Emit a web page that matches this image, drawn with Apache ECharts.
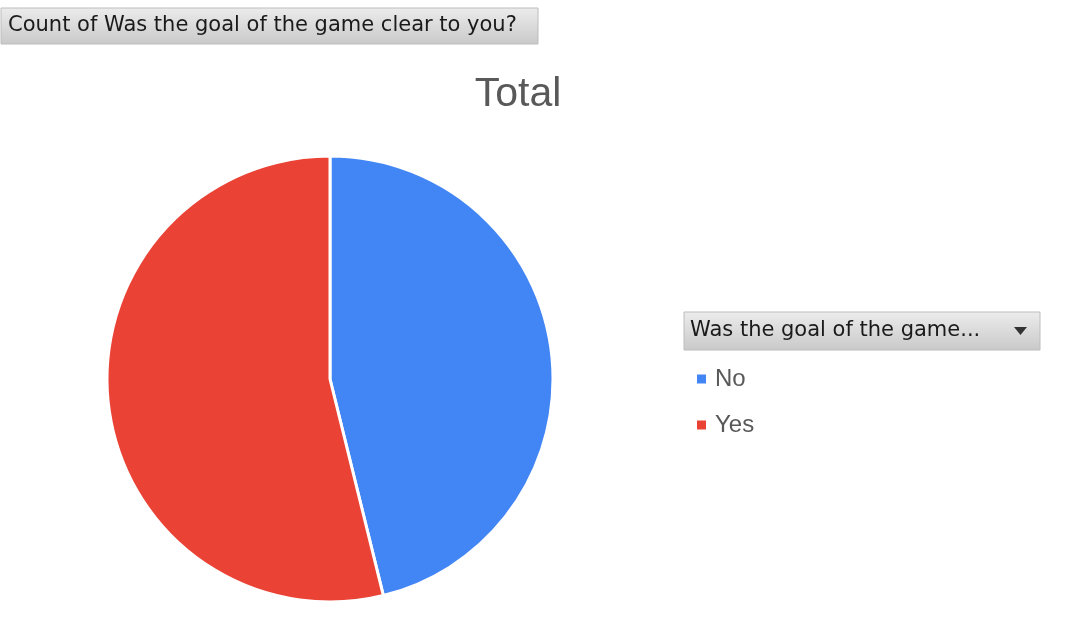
<!DOCTYPE html>
<html>
<head>
<meta charset="utf-8">
<script src="https://cdn.jsdelivr.net/npm/echarts@6/dist/echarts.min.js"></script>
<style>
html,body{margin:0;padding:0;background:#fff;}
#chart{width:1074px;height:631px;}
</style>
</head>
<body>
<div id="chart"></div>
<script>
const categories = ["No", "Yes"];
const counts = [6, 7];
const colors = ["#4285F4", "#EA4335"];
const fieldTitle = "Count of Was the goal of the game clear to you?";
const legendTitle = "Was the goal of the game...";
const chartTitle = "Total";

const chart = echarts.init(document.getElementById('chart'));
const mkGrad = () => new echarts.graphic.LinearGradient(0, 0, 0, 1, [
  {offset: 0, color: '#ececec'},
  {offset: 1, color: '#c9c9c9'}
]);
chart.setOption({
  animation: false,
  backgroundColor: '#ffffff',
  title: {
    text: chartTitle,
    left: 513,
    top: 69,
    textAlign: 'center',
    textStyle: {fontFamily: 'Liberation Sans, Arial', fontSize: 41, fontWeight: 'normal', color: '#595959'}
  },
  legend: {
    orient: 'vertical',
    left: 697,
    top: 367,
    padding: 0,
    icon: 'rect',
    itemWidth: 9,
    itemHeight: 9,
    itemGap: 22,
    itemStyle: {borderWidth: 0},
    data: categories,
    textStyle: {fontFamily: 'Liberation Sans, Arial', fontSize: 24, color: '#595959', padding: [0,0,0,4]}
  },
  graphic: [
    {type: 'rect', shape: {x: 1, y: 8, width: 537, height: 36}, style: {fill: mkGrad(), stroke: '#bdbdbd', lineWidth: 1}},
    {type: 'text', style: {x: 8, y: 26, text: fieldTitle, fontFamily: 'DejaVu Sans', fontSize: 21, fill: '#1a1a1a', verticalAlign: 'middle'}},
    {type: 'rect', shape: {x: 684, y: 312, width: 356, height: 38}, style: {fill: mkGrad(), stroke: '#bdbdbd', lineWidth: 1}},
    {type: 'text', style: {x: 690, y: 331, text: legendTitle, fontFamily: 'DejaVu Sans', fontSize: 21, fill: '#1a1a1a', verticalAlign: 'middle'}},
    {type: 'polygon', shape: {points: [[1014, 327], [1027, 327], [1020.5, 335]]}, style: {fill: '#333'}}
  ],
  series: [{
    type: 'pie',
    center: [330, 379],
    radius: 223,
    startAngle: 90,
    clockwise: true,
    label: {show: false},
    labelLine: {show: false},
    itemStyle: {borderColor: '#ffffff', borderWidth: 3},
    emphasis: {disabled: true},
    data: categories.map((c, i) => ({name: c, value: counts[i], itemStyle: {color: colors[i]}}))
  }]
});
</script>
</body>
</html>
